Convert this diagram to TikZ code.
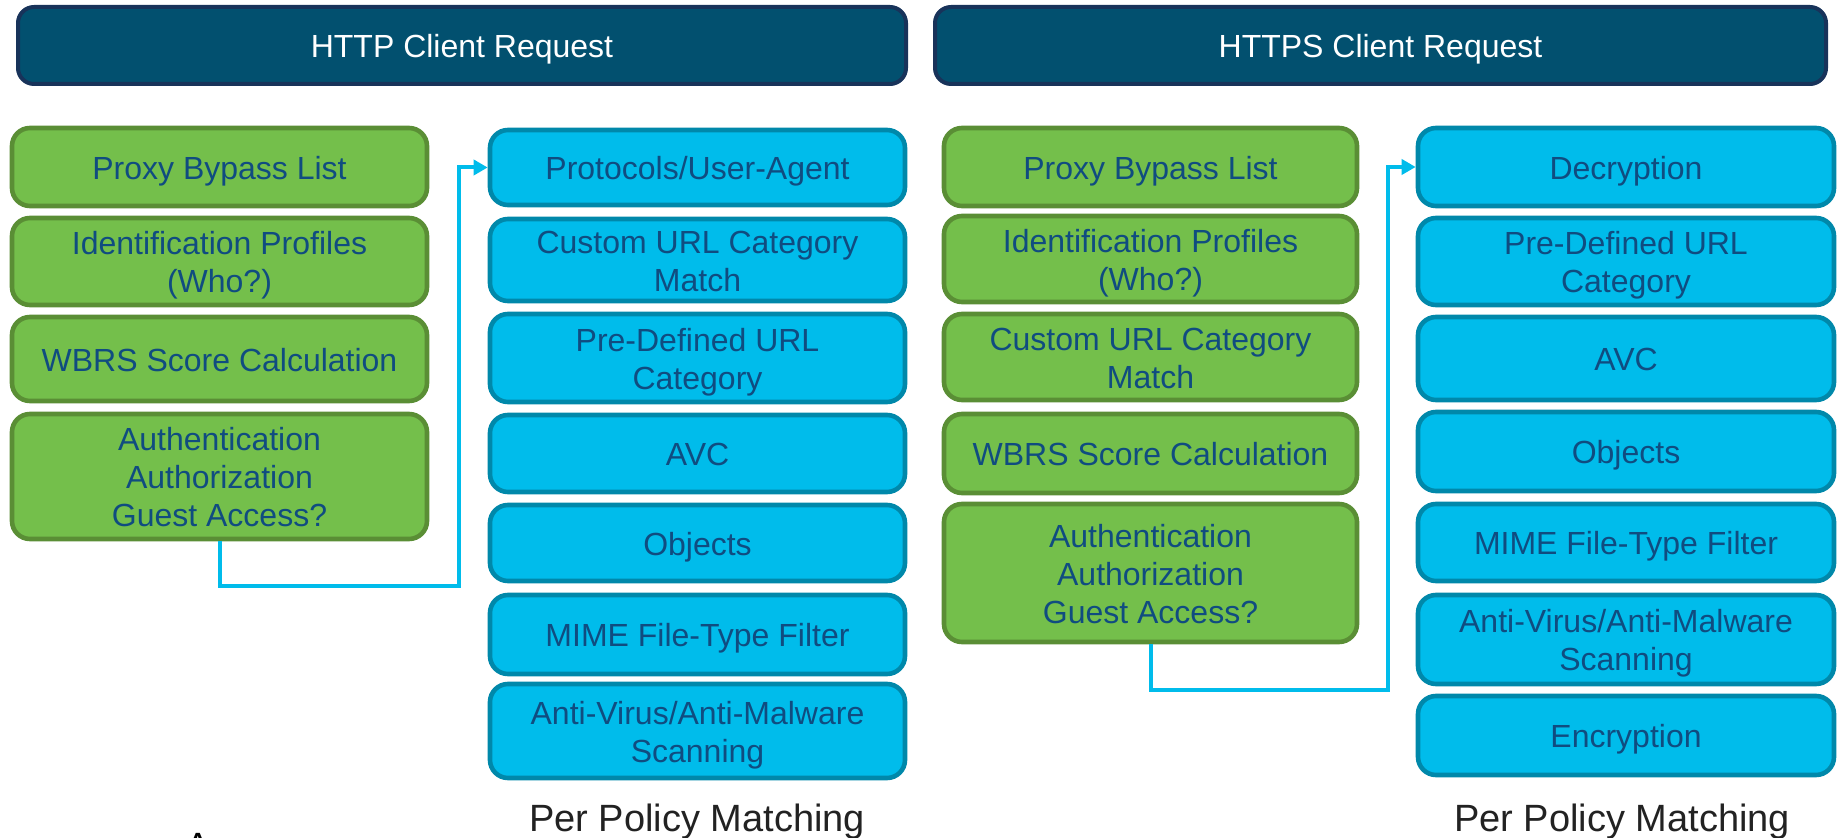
\documentclass[tikz,border=0pt]{standalone}
\usepackage{fontspec}
\setmainfont{Liberation Sans}
\usetikzlibrary{arrows.meta}
\definecolor{hdrfill}{HTML}{02506F}
\definecolor{hdrline}{HTML}{18335A}
\definecolor{gfill}{HTML}{74BF4B}
\definecolor{gline}{HTML}{5A8E35}
\definecolor{bfill}{HTML}{00BCEB}
\definecolor{bline}{HTML}{0088AA}
\definecolor{btext}{HTML}{104C80}
\definecolor{conncol}{HTML}{00BCEB}
\definecolor{ppmtext}{HTML}{222222}
\newcommand\topstr{\rule{0pt}{16pt}}
\newcommand\botstr{\rule[-3.5pt]{0pt}{3.5pt}}
\newcommand\bt[1]{\topstr#1\botstr}
\newcommand\bigstrut{\rule[-4.2pt]{0pt}{22pt}}
\tikzset{
  boxbase/.style={rounded corners=9pt, line width=2.3pt, align=center, inner sep=0pt,
    font=\fontsize{16}{19}\selectfont, text=btext},
  hdrbox/.style={rounded corners=8pt, line width=2pt, draw=hdrline, fill=hdrfill, text=white,
    font=\fontsize{16}{19}\selectfont, inner sep=0pt, minimum height=38.5pt},
  gbox/.style={boxbase, draw=gline, fill=gfill},
  bbox/.style={boxbase, draw=bline, fill=bfill},
  conn/.style={draw=conncol, line width=2pt, -{Triangle[length=7pt,width=7.5pt]}},
  ppm/.style={text=ppmtext, font=\fontsize{19}{22}\selectfont, inner sep=0pt},
}
\begin{document}
\begin{tikzpicture}[x=0.5pt,y=-0.5pt]
\useasboundingbox (0,0) rectangle (1837,838);
% headers
\node[hdrbox, minimum width=444pt] (h1) at (462,45.5) {\bt{HTTP Client Request}};
\node[hdrbox, minimum width=445.5pt] (h2) at (1380.5,45.5) {\bt{HTTPS Client Request}};
% HTTP green column
\node[gbox, minimum width=207.5pt, minimum height=39pt] (p1) at (219.5,167) {\bt{Proxy Bypass List}};
\node[gbox, minimum width=207.5pt, minimum height=43.5pt] (i1) at (219.5,261.5) {\bt{Identification Profiles\\(Who?)}};
\node[gbox, minimum width=207.5pt, minimum height=42pt] (w1) at (219.5,359) {\bt{WBRS Score Calculation}};
\node[gbox, minimum width=207.5pt, minimum height=62.5pt] (a1) at (219.5,476.5) {\bt{Authentication\\Authorization\\Guest Access?}};
% HTTP blue column
\node[bbox, minimum width=207.5pt, minimum height=37.5pt] (pr1) at (697.5,167.5) {\bt{Protocols/User-Agent}};
\node[bbox, minimum width=207.5pt, minimum height=41pt] (cu1) at (697.5,260) {\bt{Custom URL Category\\Match}};
\node[bbox, minimum width=207.5pt, minimum height=44pt] (pd1) at (697.5,358) {\bt{Pre-Defined URL\\Category}};
\node[bbox, minimum width=207.5pt, minimum height=38.5pt] (avc1) at (697.5,453.5) {\bt{AVC}};
\node[bbox, minimum width=207.5pt, minimum height=38pt] (ob1) at (697.5,543) {\bt{Objects}};
\node[bbox, minimum width=207.5pt, minimum height=39.5pt] (mi1) at (697.5,634.5) {\bt{MIME File-Type Filter}};
\node[bbox, minimum width=207.5pt, minimum height=47pt] (av1) at (697.5,731) {\bt{Anti-Virus/Anti-Malware\\Scanning}};
\node[ppm] (ppm1) at (697,818) {\bigstrut Per Policy Matching};
% HTTPS green column
\node[gbox, minimum width=206.5pt, minimum height=39pt] (p2) at (1150.5,167) {\bt{Proxy Bypass List}};
\node[gbox, minimum width=206.5pt, minimum height=43pt] (i2) at (1150.5,259) {\bt{Identification Profiles\\(Who?)}};
\node[gbox, minimum width=206.5pt, minimum height=43pt] (c2) at (1150.5,357) {\bt{Custom URL Category\\Match}};
\node[gbox, minimum width=206.5pt, minimum height=39.5pt] (w2) at (1150.5,453.5) {\bt{WBRS Score Calculation}};
\node[gbox, minimum width=206.5pt, minimum height=69pt] (a2) at (1150.5,573) {\bt{Authentication\\Authorization\\Guest Access?}};
% HTTPS blue column
\node[bbox, minimum width=208pt, minimum height=39pt] (de2) at (1626,167) {\bt{Decryption}};
\node[bbox, minimum width=208pt, minimum height=43.5pt] (pd2) at (1626,261.5) {\bt{Pre-Defined URL\\Category}};
\node[bbox, minimum width=208pt, minimum height=41.5pt] (avc2) at (1626,358.5) {\bt{AVC}};
\node[bbox, minimum width=208pt, minimum height=39.5pt] (ob2) at (1626,451.5) {\bt{Objects}};
\node[bbox, minimum width=208pt, minimum height=38.5pt] (mi2) at (1626,542.5) {\bt{MIME File-Type Filter}};
\node[bbox, minimum width=208pt, minimum height=44.5pt] (av2) at (1626,639.5) {\bt{Anti-Virus/Anti-Malware\\Scanning}};
\node[bbox, minimum width=208pt, minimum height=39.5pt] (en2) at (1626,735.5) {\bt{Encryption}};
\node[ppm] (ppm2) at (1622,818) {\bigstrut Per Policy Matching};
% connectors
\coordinate (k1) at (459,586);
\coordinate (k2) at (1388,690);
\draw[conn] (a1.south) |- (k1) |- (pr1.west);
\draw[conn] (a2.south) |- (k2) |- (de2.west);
% clipped glyph at bottom edge
\node[ppm, anchor=north, text=black] (frag) at (198,833) {A};
\end{tikzpicture}
\end{document}
